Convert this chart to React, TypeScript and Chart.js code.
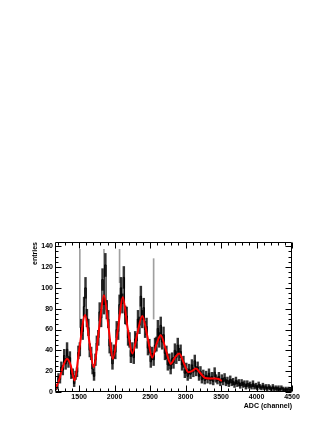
import React, { useEffect, useRef } from "react";
import { Chart, registerables } from "chart.js";

Chart.register(...registerables);

// ---- data ----
const BIN_START = 1160;
const BIN_WIDTH = 20;
const COUNTS = [
  4, 5, 14, 12, 24, 21, 35, 27, 41, 29, 33, 17, 18, 8, 16, 19, 38, 41, 62, 58,
  82, 100, 71, 62, 40, 37, 22, 15, 31, 47, 52, 77, 71, 108, 84, 122, 79, 70, 44, 41,
  27, 39, 38, 60, 58, 84, 100, 85, 110, 74, 73, 52, 50, 34, 41, 33, 51, 49, 70, 64,
  92, 70, 81, 60, 63, 42, 44, 29, 37, 31, 45, 46, 61, 50, 64, 48, 55, 37, 38, 26,
  31, 22, 32, 28, 40, 33, 45, 36, 39, 26, 29, 18, 23, 15, 22, 17, 26, 19, 30, 20,
  24, 15, 20, 12, 17, 11, 16, 12, 18, 11, 15, 10, 19, 13, 11, 15, 9, 13, 10, 14,
  9, 11, 8, 12, 9, 10, 7, 11, 8, 9, 6, 9, 7, 8, 5, 8, 6, 7, 5, 8,
  5, 6, 4, 7, 5, 4, 6, 4, 5, 3, 5, 4, 3, 5, 3, 4, 3, 4, 2, 4,
  3, 2, 3, 2, 3, 2, 2,
];
const SPIKE_X = [1510, 1850, 2070, 2550];
const SPIKE_LO = [62, 110, 105, 70];
const SPIKE_HI = [137, 137, 137, 128];

const FIT_X = [1160, 1220, 1270, 1330, 1380, 1435, 1500, 1585, 1645, 1705, 1780, 1850, 1915, 1975, 2050, 2115, 2180, 2250, 2320, 2390, 2460, 2530, 2590, 2650, 2720, 2790, 2850, 2910, 2980, 3040, 3090, 3145, 3210, 3276, 3350, 3420, 3465, 3510];
const FIT_Y = [2, 12, 24, 32, 26, 11, 40, 74, 48, 24, 60, 93, 62, 32, 62, 91, 63, 37, 56, 73, 54, 33, 46, 54.5, 41, 27, 33, 37, 27, 19, 20, 22.5, 18, 13.5, 13, 13, 12.5, 10.5];

const X_TICKS = [1500, 2000, 2500, 3000, 3500, 4000, 4500];
const Y_TICKS = [0, 20, 40, 60, 80, 100, 120, 140];
const X_MIN = 1160;
const X_MAX = 4500;
const Y_MIN = 0;
const Y_MAX = 144;

const FONT = { family: "'Liberation Sans', Arial, Helvetica, sans-serif", size: 7, weight: "bold" as const };

const frameTicks = {
  id: "frameTicks",
  afterDatasetsDraw(chart: any) {
    const { ctx, chartArea: a, scales } = chart;
    const x = scales.x;
    const y = scales.y;
    ctx.save();
    ctx.strokeStyle = "#000";
    ctx.lineWidth = 1;
    const L = Math.round(a.left) + 0.5;
    const R = Math.round(a.right) - 0.5;
    const T = Math.round(a.top) + 0.5;
    const B = Math.round(a.bottom) - 0.5;
    ctx.beginPath();
    ctx.rect(L, T, R - L, B - T);
    ctx.stroke();
    ctx.beginPath();
    for (let v = 1200; v <= X_MAX; v += 100) {
      const px = Math.round(x.getPixelForValue(v)) + 0.5;
      const len = v % 500 === 0 ? 6 : 3;
      ctx.moveTo(px, B);
      ctx.lineTo(px, B - len);
      ctx.moveTo(px, T);
      ctx.lineTo(px, T + len);
    }
    for (let v = 0; v <= 140; v += 5) {
      const py = Math.round(y.getPixelForValue(v)) + 0.5;
      const len = v % 20 === 0 ? 6 : 3;
      ctx.moveTo(L, py);
      ctx.lineTo(L + len, py);
      ctx.moveTo(R, py);
      ctx.lineTo(R - len, py);
    }
    ctx.stroke();
    ctx.restore();
  },
};

export default function App() {
  const ref = useRef<HTMLCanvasElement | null>(null);
  useEffect(() => {
    if (!ref.current) return;
    const centers = COUNTS.map((_, i) => BIN_START + BIN_WIDTH / 2 + i * BIN_WIDTH);
    const hist = COUNTS.map((v, i) => ({ x: centers[i], y: v }));
    const errs = COUNTS.map((v, i) => ({ x: centers[i], y: [v - Math.sqrt(v), v + Math.sqrt(v)] }));
    const spikes = SPIKE_X.map((sx, i) => ({ x: sx, y: [SPIKE_LO[i], SPIKE_HI[i]] }));
    const fit = FIT_X.map((fx, i) => ({ x: fx, y: FIT_Y[i] }));

    const chart = new Chart(ref.current, {
      type: "line",
      data: {
        datasets: [
          {
            type: "line",
            data: fit,
            borderColor: "#ff0000",
            borderWidth: 2,
            pointRadius: 0,
            cubicInterpolationMode: "monotone",
            order: 0,
          } as any,
          {
            type: "line",
            data: hist,
            borderColor: "#000",
            borderWidth: 1,
            pointRadius: 0,
            stepped: "middle",
            order: 1,
          } as any,
          {
            type: "bar",
            data: errs,
            backgroundColor: "rgba(0,0,0,0.8)",
            borderWidth: 0,
            barThickness: 1.8,
            grouped: false,
            order: 2,
          } as any,
          {
            type: "bar",
            data: spikes,
            backgroundColor: "#a0a0a0",
            borderWidth: 0,
            barThickness: 1,
            grouped: false,
            order: 3,
          } as any,
        ],
      },
      options: {
        animation: false,
        responsive: false,
        events: [],
        layout: { padding: { left: 0, right: 40, top: 242, bottom: 0 } },
        plugins: { legend: { display: false }, tooltip: { enabled: false } },
        scales: {
          x: {
            type: "linear",
            min: X_MIN,
            max: X_MAX,
            offset: false,
            afterBuildTicks: (s: any) => {
              s.ticks = X_TICKS.map((v) => ({ value: v }));
            },
            afterFit: (s: any) => {
              s.height = 38;
            },
            grid: { display: false, drawTicks: false },
            border: { display: false },
            ticks: { padding: 1, font: FONT, color: "#000", maxRotation: 0, autoSkip: false, callback: (v: any) => String(v) },
            title: { display: true, text: "ADC (channel)", align: "end", font: FONT, color: "#000", padding: { top: 0, bottom: 20 } },
          },
          y: {
            type: "linear",
            min: Y_MIN,
            max: Y_MAX,
            afterBuildTicks: (s: any) => {
              s.ticks = Y_TICKS.map((v) => ({ value: v }));
            },
            afterFit: (s: any) => {
              s.width = 55;
            },
            grid: { display: false, drawTicks: false },
            border: { display: false },
            ticks: { padding: 2, font: FONT, color: "#000", autoSkip: false, callback: (v: any) => String(v) },
            title: { display: true, text: "entries", align: "end", font: FONT, color: "#000", padding: { top: 31, bottom: 0 } },
          },
        },
      } as any,
      plugins: [frameTicks],
    });
    return () => chart.destroy();
  }, []);
  return (
    <div style={{ position: "fixed", left: 0, top: 0, width: 332, height: 430, background: "#fff" }}>
      <canvas ref={ref} width={332} height={430} />
    </div>
  );
}
